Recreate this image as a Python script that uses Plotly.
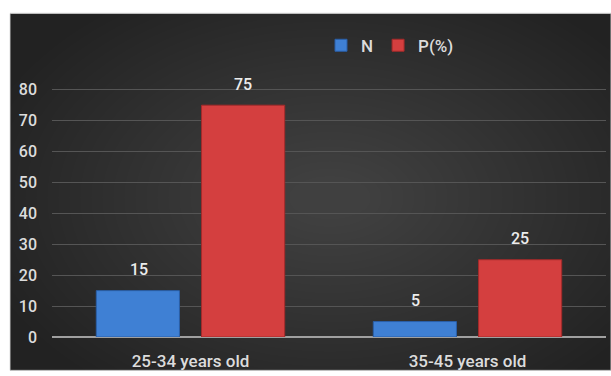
import plotly.graph_objects as go

# Age groups and the two series shown for each
categories = ["25-34 years old", "35-45 years old"]
n_values = [15, 5]
p_values = [75, 25]
y_ticks = [0, 10, 20, 30, 40, 50, 60, 70, 80]

W, H = 611, 376
L, R, T, B = 52, 5, 82, 34
Y_MAX = 82.5
pw, ph = W - L - R, H - T - B


def px_x(x):
    return (x - L) / pw


def px_y(y):
    return (H - B - y) / ph


text_color = "#dcdcdc"
font_family = "Roboto, 'DejaVu Sans', sans-serif"
label_font = dict(color="#ececec", size=16, family=font_family, weight=500)

fig = go.Figure()
fig.add_trace(go.Bar(
    name="N", x=categories, y=n_values,
    marker=dict(color="#3f80d4", line=dict(color="#2a5fa8", width=1)),
))
fig.add_trace(go.Bar(
    name="P(%)", x=categories, y=p_values,
    marker=dict(color="#d43f3f", line=dict(color="#a42a2a", width=1)),
))

# Value labels above each bar, offset to the bar's slot in its group
annotations = []
for series, shift in ((n_values, -52), (p_values, 52)):
    for cat, v in zip(categories, series):
        annotations.append(dict(
            x=cat, y=v, xref="x", yref="y", text=str(v),
            showarrow=False, xshift=shift, yshift=21,
            font=label_font,
        ))

# Dark panel with a soft lighter centre
shapes = [dict(
    type="rect", xref="paper", yref="paper", layer="below",
    x0=px_x(10), x1=px_x(W), y0=px_y(H), y1=px_y(12),
    fillcolor="#222222", line=dict(color="#bdbdbd", width=1),
)]
cx, cy = 330, 200
n_rings = 30
for i in range(n_rings):
    rx = 360 - i * 11
    ry = 240 - i * 7.5
    shapes.append(dict(
        type="circle", xref="paper", yref="paper", layer="below",
        x0=px_x(cx - rx), x1=px_x(cx + rx),
        y0=px_y(cy + ry), y1=px_y(cy - ry),
        fillcolor="rgba(255,255,255,0.0098)", line=dict(width=0),
    ))
# Cover overflow of the glow outside the panel
shapes += [
    dict(type="rect", xref="paper", yref="paper", layer="below",
         x0=px_x(0), x1=px_x(W + 40), y0=px_y(12), y1=px_y(-60),
         fillcolor="white", line=dict(width=0)),
    dict(type="rect", xref="paper", yref="paper", layer="below",
         x0=px_x(-60), x1=px_x(9.5), y0=px_y(H + 60), y1=px_y(0),
         fillcolor="white", line=dict(width=0)),
    dict(type="line", xref="paper", yref="paper", layer="below",
         x0=px_x(10), x1=px_x(W), y0=px_y(12), y1=px_y(12),
         line=dict(color="#bdbdbd", width=1)),
]

fig.update_layout(
    width=W, height=H,
    margin=dict(l=L, r=R, t=T, b=B, pad=0),
    paper_bgcolor="white", plot_bgcolor="rgba(0,0,0,0)",
    barmode="group", bargap=0.24, bargroupgap=0.21,
    shapes=shapes, annotations=annotations,
    font=dict(family=font_family, color=text_color),
    legend=dict(
        orientation="h", x=px_x(390), xanchor="center",
        y=px_y(45), yanchor="middle",
        font=dict(size=17, color=text_color, weight=500),
        bgcolor="rgba(0,0,0,0)", itemwidth=30, traceorder="normal",
    ),
    xaxis=dict(
        showgrid=False, zeroline=False, showline=False,
        ticks="", tickfont=dict(size=17, color=text_color, weight=500),
        fixedrange=True,
    ),
    yaxis=dict(
        range=[0, Y_MAX], tickvals=y_ticks,
        showgrid=True, gridcolor="#555555", gridwidth=1,
        zeroline=True, zerolinecolor="#a0a0a0", zerolinewidth=2,
        showline=False, ticks="",
        tickfont=dict(size=16, color=text_color, weight=500),
        fixedrange=True,
    ),
    showlegend=True,
)
fig.update_xaxes(ticklabelstandoff=12)
fig.update_yaxes(ticklabelstandoff=14)

fig.write_html("out.html")
